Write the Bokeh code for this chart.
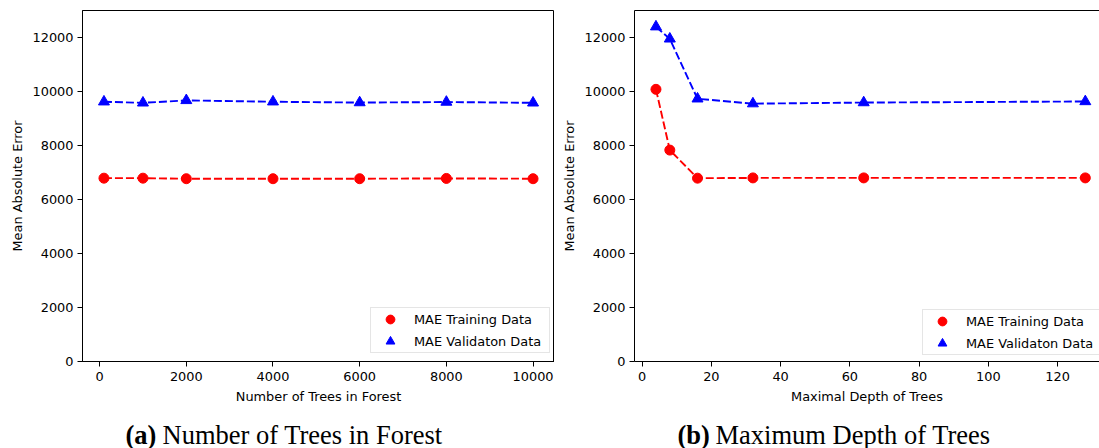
from bokeh.plotting import figure
from bokeh.layouts import row, column
from bokeh.models import FixedTicker, Legend, LegendItem, Label, Range1d, LinearAxis
from bokeh.embed import file_html
from bokeh.resources import INLINE

# Panel (a): number of trees in the forest
n_trees = [100, 1000, 2000, 4000, 6000, 8000, 10000]
mae_train_trees = [6790, 6790, 6770, 6770, 6770, 6780, 6770]
mae_val_trees = [9620, 9580, 9670, 9620, 9590, 9610, 9580]

# Panel (b): maximal depth of the trees
depths = [4, 8, 16, 32, 64, 128]
mae_train_depth = [10080, 7830, 6790, 6800, 6800, 6800]
mae_val_depth = [12400, 11950, 9730, 9550, 9590, 9630]

y_ticks = [0, 2000, 4000, 6000, 8000, 10000, 12000]
x_ticks_a = [0, 2000, 4000, 6000, 8000, 10000]
x_ticks_b = [0, 20, 40, 60, 80, 100, 120]

TICK_FONT = "DejaVu Sans"
FS = "12.9px"
CAP_FS = "26.5px"
RED = "#ff0000"
BLUE = "#0000ff"
PLOT_H = 408
CAP_H = 40


def style_axes(p, xticks):
    for ax in (p.xaxis[0], p.yaxis[0]):
        ax.major_tick_in = 0
        ax.major_tick_out = 5
        ax.minor_tick_line_color = None
        ax.major_label_text_font = TICK_FONT
        ax.major_label_text_font_size = FS
        ax.major_label_text_color = "black"
        ax.axis_label_text_font = TICK_FONT
        ax.axis_label_text_font_size = FS
        ax.axis_label_text_font_style = "normal"
        ax.axis_label_text_color = "black"
        ax.axis_line_color = "black"
        ax.major_tick_line_color = "black"
    p.xaxis[0].ticker = FixedTicker(ticks=xticks)
    p.yaxis[0].ticker = FixedTicker(ticks=y_ticks)
    p.yaxis[0].axis_label = "Mean Absolute Error"
    p.yaxis[0].axis_label_standoff = 4
    p.yaxis[0].major_label_standoff = 4
    p.xaxis[0].major_label_standoff = 5
    p.xaxis[0].axis_label_standoff = 5
    p.xgrid.visible = False
    p.ygrid.visible = False


def add_series(p, x, train, val, loc):
    p.line(x, train, line_color=RED, line_width=1.9, line_dash="8 3")
    p.line(x, val, line_color=BLUE, line_width=1.9, line_dash="8 3")
    r1 = p.scatter(x, train, marker="circle", size=10, color=RED)
    r2 = p.scatter(x, val, marker="triangle", size=11, color=BLUE)
    legend = Legend(
        items=[LegendItem(label="MAE Training Data", renderers=[r1]),
               LegendItem(label="MAE Validaton Data", renderers=[r2])],
        location=loc,
        label_text_font=TICK_FONT, label_text_font_size=FS,
        label_text_color="black",
        glyph_width=38, glyph_height=22, label_height=22, label_width=135,
        spacing=-3, padding=0, label_standoff=5, margin=0,
        border_line_color="#cccccc", border_line_width=1,
        background_fill_alpha=0.8,
    )
    p.add_layout(legend, "center")


def caption(width, x0, x1, tag, text):
    c = figure(width=width, height=CAP_H, output_backend="svg", toolbar_location=None,
               x_range=Range1d(0, 1), y_range=Range1d(0, 1),
               min_border=0, outline_line_color=None)
    c.axis.visible = False
    c.grid.visible = False
    c.add_layout(Label(x=x0, y=14, x_units="screen", y_units="screen", text=tag,
                       text_font="Liberation Serif", text_font_size=CAP_FS,
                       text_font_style="bold", text_color="black",
                       text_baseline="alphabetic"))
    c.add_layout(Label(x=x1, y=14, x_units="screen", y_units="screen", text=text,
                       text_font="Liberation Serif", text_font_size=CAP_FS,
                       text_color="black", text_baseline="alphabetic"))
    return c


# ---- (a) ----
pa = figure(width=554, height=PLOT_H, output_backend="svg", toolbar_location=None,
            x_range=Range1d(-395, 10495), y_range=Range1d(0, 13000),
            min_border_left=82, min_border_right=0, min_border_top=10,
            min_border_bottom=47)
pa.outline_line_color = "black"
pa.outline_line_width = 1
add_series(pa, n_trees, mae_train_trees, mae_val_trees, (288, 8))
style_axes(pa, x_ticks_a)
pa.xaxis[0].axis_label = "Number of Trees in Forest"

# ---- (b) ----
pb = figure(width=545, height=PLOT_H, output_backend="svg", toolbar_location=None,
            x_range=Range1d(-2.2, 132.1), y_range=Range1d(0, 13000),
            min_border_left=80, min_border_right=0, min_border_top=10,
            min_border_bottom=47)
pb.outline_line_color = None
add_series(pb, depths, mae_train_depth, mae_val_depth, (288, 6))
style_axes(pb, x_ticks_b)
pb.xaxis[0].axis_label = "Maximal Depth of Trees"
# top border line; the right border lies beyond the drawing area
top_ax = LinearAxis(ticker=FixedTicker(ticks=[]), major_tick_line_color=None,
                    minor_tick_line_color=None, axis_line_color="black",
                    major_label_standoff=0, major_tick_out=0)
pb.add_layout(top_ax, "above")

cap_a = caption(560, 125, 162, "(a)", "Number of Trees in Forest")
cap_b = caption(539, 117, 155, "(b)", "Maximum Depth of Trees")

layout = column(row(pa, pb), row(cap_a, cap_b))
open("out.html", "w").write(file_html(layout, INLINE))
